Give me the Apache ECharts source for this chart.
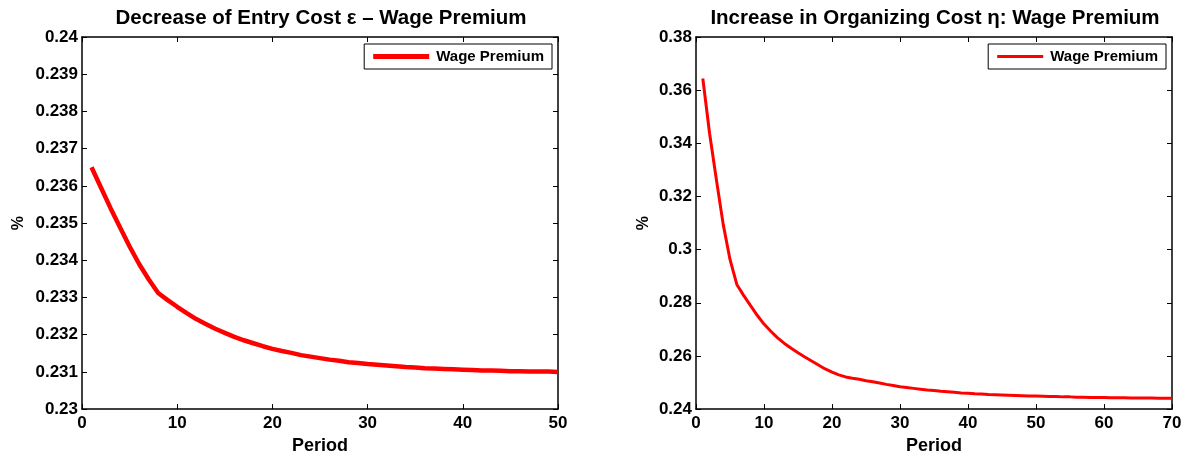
<!DOCTYPE html>
<html>
<head>
<meta charset="utf-8">
<script src="https://cdn.jsdelivr.net/npm/echarts@6/dist/echarts.min.js"></script>
<style>
html,body{margin:0;padding:0;background:#fff;}
#c{width:1190px;height:460px;}
</style>
</head>
<body>
<div id="c"></div>
<script>
// ---- data ----
const titleLeft = 'Decrease of Entry Cost \u03b5 \u2013 Wage Premium';
const titleRight = 'Increase in Organizing Cost \u03b7: Wage Premium';
const seriesName = 'Wage Premium';
const xLabel = 'Period';
const yLabel = '%';

// Left panel: wage premium, periods 1..50
const entryCostPremium = [
  0.23650, 0.23595, 0.23540, 0.23488, 0.23437, 0.23390, 0.23349, 0.23312,
  0.23293, 0.23275, 0.23258, 0.23242, 0.23229, 0.23216, 0.23205, 0.23194,
  0.23185, 0.23177, 0.23169, 0.23162, 0.23156, 0.23151, 0.23145, 0.23141,
  0.23137, 0.23133, 0.23130, 0.23126, 0.23124, 0.23121, 0.23119, 0.23117,
  0.23115, 0.23113, 0.23112, 0.23110, 0.23109, 0.23108, 0.23107, 0.23106,
  0.23105, 0.23104, 0.23104, 0.23103, 0.23102, 0.23102, 0.23101, 0.23101,
  0.23101, 0.23100
];

// Right panel: wage premium, periods 1..70
const organizingCostPremium = [
  0.3644, 0.3437, 0.3263, 0.3095, 0.2963, 0.2869, 0.2828, 0.2790, 0.2753, 0.2720,
  0.2693, 0.2668, 0.2647, 0.2629, 0.2612, 0.2596, 0.2581, 0.2566, 0.2551, 0.2539,
  0.2529, 0.2521, 0.2516, 0.2512, 0.2507, 0.2503, 0.2498, 0.2493, 0.2489, 0.2484,
  0.2481, 0.2478, 0.2475, 0.2472, 0.2470, 0.2467, 0.2465, 0.2463, 0.2461, 0.2460,
  0.2458, 0.2457, 0.2455, 0.2454, 0.2453, 0.2452, 0.2451, 0.2450, 0.2449, 0.2449,
  0.2448, 0.2447, 0.2447, 0.2446, 0.2446, 0.2445, 0.2445, 0.2444, 0.2444, 0.2444,
  0.2443, 0.2443, 0.2443, 0.2442, 0.2442, 0.2442, 0.2442, 0.2441, 0.2441, 0.2441
];

const leftX = { min: 0, max: 50, interval: 10 };
const leftY = { min: 0.23, max: 0.24, interval: 0.001, digits: 3 };
const rightX = { min: 0, max: 70, interval: 10 };
const rightY = { min: 0.24, max: 0.38, interval: 0.02, digits: 2 };

// ---- chart ----
const FONT = '"Liberation Sans", Arial, Helvetica, sans-serif';
const chart = echarts.init(document.getElementById('c'), null, { renderer: 'canvas' });

function toPairs(arr) { return arr.map((v, i) => [i + 1, v]); }

const lineStyleAxis = { color: '#000', width: 1.5 };
const labelStyle = { color: '#000', fontFamily: FONT, fontWeight: 'bold', fontSize: 17 };

function xAxes(gridIndex, rng) {
  return [
    {
      type: 'value', gridIndex, position: 'bottom', min: rng.min, max: rng.max, interval: rng.interval,
      name: xLabel, nameLocation: 'middle', nameGap: 27,
      nameTextStyle: { color: '#000', fontFamily: FONT, fontWeight: 'bold', fontSize: 18 },
      axisLine: { show: true, onZero: false, lineStyle: lineStyleAxis },
      axisTick: { show: true, inside: true, length: 5, lineStyle: { color: '#000', width: 1 } },
      axisLabel: Object.assign({ margin: 6 }, labelStyle),
      splitLine: { show: false }
    },
    {
      type: 'value', gridIndex, position: 'top', min: rng.min, max: rng.max, interval: rng.interval,
      axisLine: { show: true, onZero: false, lineStyle: lineStyleAxis },
      axisTick: { show: true, inside: true, length: 5, lineStyle: { color: '#000', width: 1 } },
      axisLabel: { show: false },
      splitLine: { show: false }
    }
  ];
}

function yAxes(gridIndex, rng, nameGap) {
  const fmt = v => String(+(+v).toFixed(rng.digits));
  return [
    {
      type: 'value', gridIndex, position: 'left', min: rng.min, max: rng.max, interval: rng.interval,
      name: yLabel, nameLocation: 'middle', nameGap: nameGap, nameRotate: 90,
      nameTextStyle: { color: '#000', fontFamily: FONT, fontWeight: 'bold', fontSize: 16 },
      axisLine: { show: true, onZero: false, lineStyle: lineStyleAxis },
      axisTick: { show: true, inside: true, length: 5, lineStyle: { color: '#000', width: 1 } },
      axisLabel: Object.assign({ margin: 4, formatter: fmt }, labelStyle),
      splitLine: { show: false }
    },
    {
      type: 'value', gridIndex, position: 'right', min: rng.min, max: rng.max, interval: rng.interval,
      axisLine: { show: true, onZero: false, lineStyle: lineStyleAxis },
      axisTick: { show: true, inside: true, length: 5, lineStyle: { color: '#000', width: 1 } },
      axisLabel: { show: false },
      splitLine: { show: false }
    }
  ];
}

const legendBase = {
  orient: 'horizontal',
  backgroundColor: '#fff',
  borderColor: '#000',
  borderWidth: 1,
  borderRadius: 0,
  padding: [5, 8, 5, 9],
  itemGap: 0,
  icon: 'rect',
  textStyle: { color: '#000', fontFamily: FONT, fontWeight: 'bold', fontSize: 15, padding: [0, 0, 0, 2] },
  selectedMode: false
};

const option = {
  animation: false,
  backgroundColor: '#fff',
  title: [
    { text: titleLeft, left: 316, top: 3, textAlign: 'center',
      textStyle: { color: '#000', fontFamily: FONT, fontWeight: 'bold', fontSize: 20.5 } },
    { text: titleRight, left: 930, top: 3, textAlign: 'center',
      textStyle: { color: '#000', fontFamily: FONT, fontWeight: 'bold', fontSize: 20.5 } }
  ],
  legend: [
    Object.assign({}, legendBase, {
      data: [{ name: seriesName, itemStyle: { color: '#ff0000' } }],
      right: 1190 - 552, top: 44, itemWidth: 56, itemHeight: 5
    }),
    Object.assign({}, legendBase, {
      data: [{ name: seriesName, itemStyle: { color: '#ff0000' } }],
      right: 1190 - 1166, top: 44, itemWidth: 46, itemHeight: 3
    })
  ],
  grid: [
    { left: 82, right: 1190 - 558, top: 37, bottom: 50, containLabel: false },
    { left: 696, right: 1190 - 1172, top: 37, bottom: 50, containLabel: false }
  ],
  xAxis: [...xAxes(0, leftX), ...xAxes(1, rightX)],
  yAxis: [...yAxes(0, leftY, 55), ...yAxes(1, rightY, 44)],
  series: [
    {
      name: seriesName, type: 'line', xAxisIndex: 0, yAxisIndex: 0,
      data: toPairs(entryCostPremium), showSymbol: false, symbol: 'none',
      lineStyle: { color: '#ff0000', width: 4.5 }, itemStyle: { color: '#ff0000' }, z: 3
    },
    {
      name: seriesName, type: 'line', xAxisIndex: 2, yAxisIndex: 2,
      data: toPairs(organizingCostPremium), showSymbol: false, symbol: 'none',
      lineStyle: { color: '#ff0000', width: 3 }, itemStyle: { color: '#ff0000' }, z: 3
    }
  ]
};
chart.setOption(option);
</script>
</body>
</html>
